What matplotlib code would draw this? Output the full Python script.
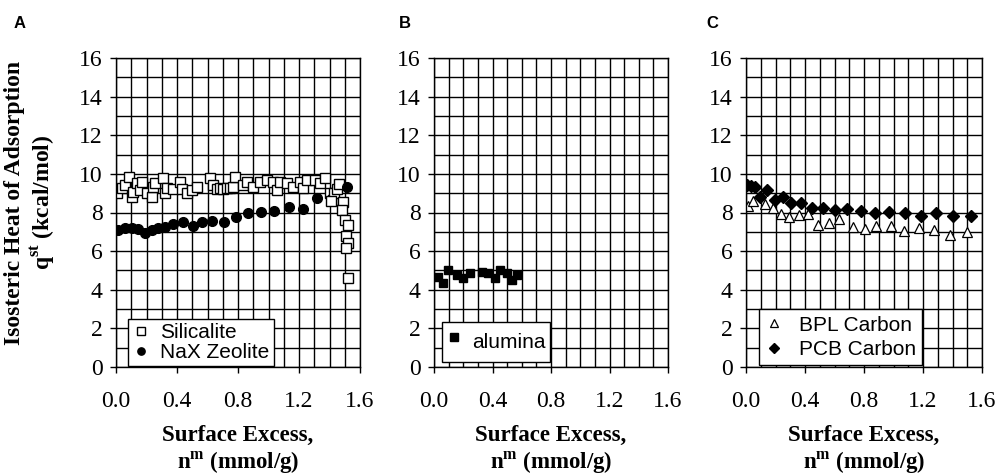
import numpy as np
import matplotlib
matplotlib.use("Agg")
import matplotlib.pyplot as plt
from matplotlib.ticker import MultipleLocator, FormatStrFormatter

plt.rcParams["font.family"] = ["Liberation Serif", "DejaVu Serif"]
plt.rcParams["mathtext.fontset"] = "custom"
plt.rcParams["mathtext.rm"] = "Liberation Serif"
plt.rcParams["mathtext.bf"] = "Liberation Serif:bold"

# panel A
silicalite_x = [0.009, 0.037, 0.059, 0.085, 0.103, 0.113, 0.136, 0.157, 0.168, 0.20,
                0.234, 0.245, 0.256, 0.31, 0.321, 0.332, 0.376, 0.42, 0.43, 0.464,
                0.496, 0.529, 0.616, 0.638, 0.66, 0.68, 0.70, 0.726, 0.75, 0.77,
                0.78, 0.835, 0.857, 0.90, 0.944, 0.988, 1.03, 1.054, 1.075, 1.12,
                1.163, 1.207, 1.228, 1.25, 1.305, 1.338, 1.37, 1.40, 1.425, 1.43,
                1.41, 1.45, 1.46, 1.49, 1.48, 1.50, 1.52, 1.51, 1.52, 1.51, 1.52]
silicalite_y = [9.03, 9.26, 9.43, 9.85, 8.82, 9.08, 9.55, 9.17, 9.60, 9.03,
                8.82, 9.34, 9.55, 9.78, 9.03, 9.26, 9.20, 9.60, 9.20, 9.00,
                9.17, 9.34, 9.78, 9.43, 9.22, 9.26, 9.22, 9.26, 9.25, 9.31,
                9.86, 9.43, 9.60, 9.34, 9.60, 9.69, 9.60, 9.17, 9.60, 9.52,
                9.34, 9.60, 9.26, 9.69, 9.69, 9.52, 9.78, 9.00, 8.65, 9.00,
                8.57, 9.20, 9.50, 8.56, 8.13, 7.62, 7.36, 6.79, 6.44, 6.15, 4.63]
nax_x = [0.015, 0.059, 0.103, 0.147, 0.19, 0.234, 0.277, 0.32, 0.376, 0.437,
         0.503, 0.562, 0.627, 0.708, 0.787, 0.864, 0.949, 1.036, 1.133, 1.228,
         1.32, 1.513]
nax_y = [7.10, 7.18, 7.21, 7.13, 6.92, 7.10, 7.18, 7.27, 7.41, 7.53,
         7.31, 7.53, 7.58, 7.53, 7.76, 7.96, 8.01, 8.08, 8.27, 8.17,
         8.74, 9.31]

# panel B
alumina_x = [0.029, 0.064, 0.098, 0.155, 0.20, 0.246, 0.326, 0.371, 0.417, 0.451,
             0.497, 0.531, 0.565]
alumina_y = [4.68, 4.33, 5.03, 4.77, 4.59, 4.85, 4.94, 4.85, 4.59, 5.03,
             4.85, 4.51, 4.77]

# panel C
bpl_x = [0.016, 0.05, 0.129, 0.181, 0.235, 0.294, 0.361, 0.422, 0.49, 0.565,
         0.633, 0.723, 0.807, 0.881, 0.983, 1.073, 1.175, 1.275, 1.383, 1.496]
bpl_y = [8.34, 8.60, 8.45, 8.22, 7.91, 7.76, 7.88, 7.91, 7.36, 7.48,
         7.65, 7.24, 7.13, 7.31, 7.31, 7.05, 7.22, 7.10, 6.84, 7.01]
pcb_x = [0.009, 0.032, 0.061, 0.095, 0.144, 0.197, 0.249, 0.303, 0.373, 0.45,
         0.524, 0.603, 0.687, 0.778, 0.875, 0.971, 1.078, 1.184, 1.288, 1.405, 1.523]
pcb_y = [9.43, 9.39, 9.31, 8.82, 9.14, 8.65, 8.82, 8.48, 8.51, 8.25,
         8.22, 8.13, 8.17, 8.10, 7.99, 8.01, 7.96, 7.82, 7.96, 7.82, 7.82]

fig = plt.figure(figsize=(9.96, 4.75), dpi=100)

W, H = 996.0, 475.0
top, bottom = 58, 367
panels = [(116, 360), (434, 668), (746, 982)]
axes = []
for x0, x1 in panels:
    ax = fig.add_axes([x0 / W, (H - bottom) / H, (x1 - x0) / W, (bottom - top) / H])
    axes.append(ax)


def style_axis(ax):
    ax.set_xlim(0, 1.6)
    ax.set_ylim(0, 16)
    ax.xaxis.set_major_locator(MultipleLocator(0.4))
    ax.xaxis.set_minor_locator(MultipleLocator(0.1))
    ax.yaxis.set_major_locator(MultipleLocator(2))
    ax.yaxis.set_minor_locator(MultipleLocator(1))
    ax.xaxis.set_major_formatter(FormatStrFormatter("%.1f"))
    ax.yaxis.set_major_formatter(FormatStrFormatter("%d"))
    ax.grid(True, which="both", color="black", linewidth=1.0)
    ax.set_axisbelow(True)
    ax.tick_params(which="major", direction="out", length=4.5, width=1.0,
                   labelsize=17, color="black")
    ax.tick_params(axis="y", which="major", pad=5)
    ax.tick_params(axis="x", which="major", pad=13)
    ax.tick_params(which="minor", length=0)
    for s in ax.spines.values():
        s.set_color("black")
        s.set_linewidth(1.0)
    ax.set_xlabel("Surface Excess,\n" + r"n$^{\mathbf{m}}$ (mmol/g)",
                  fontsize=16.5, fontweight="bold", labelpad=9, linespacing=1.2)


for ax in axes:
    style_axis(ax)

legend_kw = dict(loc="lower left", borderaxespad=0, fancybox=False,
                 edgecolor="black", framealpha=1,
                 prop={"family": "Liberation Sans", "size": 15},
                 handlelength=0.8, handletextpad=0.55, labelspacing=0.05,
                 borderpad=0.2)

ax = axes[0]
ax.plot(silicalite_x, silicalite_y, "s", ms=7.5, mfc="white", mec="black",
        mew=1.0, ls="none", label="Silicalite")
ax.plot(nax_x, nax_y, "o", ms=7, color="black", ls="none", label="NaX Zeolite")
leg = ax.legend(bbox_to_anchor=(0.05, 0.003), markerscale=0.75, **legend_kw)
leg.get_frame().set_linewidth(1.0)

ax = axes[1]
ax.plot(alumina_x, alumina_y, "s", ms=6, color="black", ls="none", label="alumina")
leg = ax.legend(bbox_to_anchor=(0.034, 0.016), markerscale=0.9,
                **{**legend_kw, "handletextpad": 0.45, "handleheight": 2.0})
leg.get_frame().set_linewidth(1.0)

ax = axes[2]
ax.plot(bpl_x, bpl_y, "^", ms=6.5, mfc="white", mec="black", mew=0.9,
        ls="none", label="BPL Carbon")
ax.plot(pcb_x, pcb_y, "D", ms=6, color="black", ls="none", label="PCB Carbon")
leg = ax.legend(bbox_to_anchor=(0.055, 0.006), markerscale=0.85,
                **{**legend_kw, "handletextpad": 0.8, "labelspacing": 0.25,
                   "borderpad": 0.3})
leg.get_frame().set_linewidth(1.0)

fig.text(0.031, 0.573, "Isosteric Heat of Adsorption\n" + r"q$^{\mathbf{st}}$ (kcal/mol)",
         rotation=90, ha="center", va="center", multialignment="center",
         fontsize=17, fontweight="bold", linespacing=1.15)

for letter, xpx in [("A", 20), ("B", 405), ("C", 712)]:
    fig.text(xpx / W, 1 - 23 / H, letter, ha="center", va="center",
             fontsize=12, fontweight="bold", family="Liberation Sans")

fig.savefig("out.png", dpi=100)
